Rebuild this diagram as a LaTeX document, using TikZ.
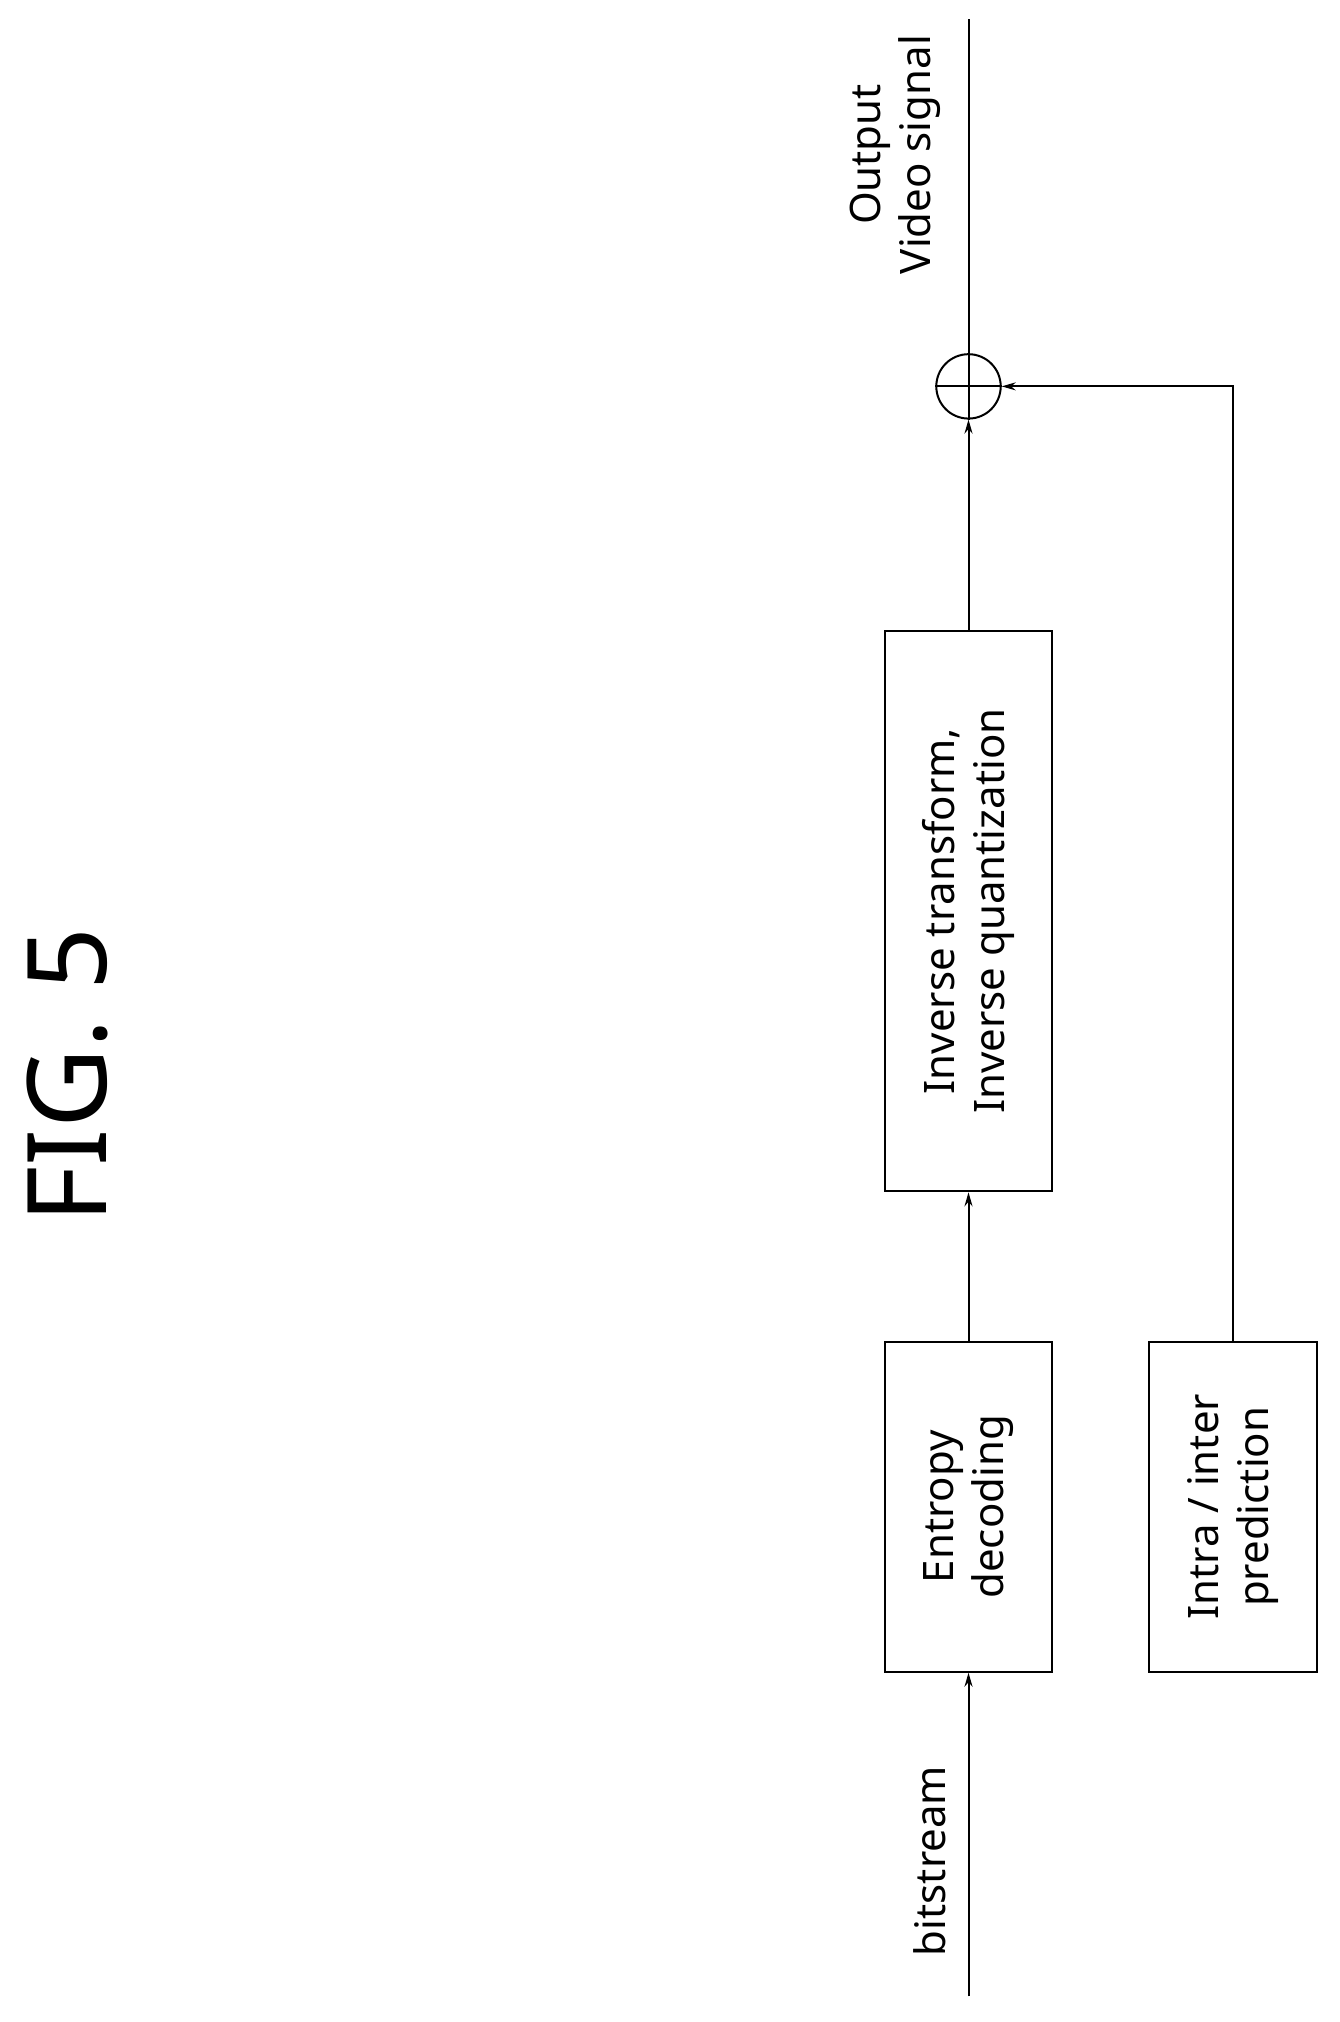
\documentclass[tikz,border=0pt]{standalone}
\usepackage{fontspec}
\setmainfont{Noto Sans}
\usetikzlibrary{arrows.meta}
\begin{document}
\begin{tikzpicture}[x=1.288pt,y=-1.288pt,>={Stealth[length=14pt,width=8pt]},line width=2pt]
        \tikzset{block/.style={draw,line width=2pt,minimum width=256*1.288pt,minimum height=130*1.288pt,rotate=90,align=center,font=\fontsize{42}{50}\selectfont}}
        \tikzset{lbl/.style={rotate=90,align=center,font=\fontsize{42}{50}\selectfont}}
        \useasboundingbox (0,0) rectangle (1040,1570);
        % blocks
        \node [block] (ent) at (752,1170) {Entropy\\decoding};
        \node [block,minimum width=435*1.288pt] (inv) at (752,707.5) {Inverse transform,\\Inverse quantization};
        \node [block] (pred) at (957.5,1170) {Intra / inter\\prediction};
        \node [draw,circle,line width=2pt,minimum size=50*1.288pt,inner sep=0pt] (sum) at (752,300) {};
        \draw (sum.north) -- (sum.south) (sum.east) -- (sum.west);
        \coordinate (in) at (752,1550);
        \coordinate (out) at (752,15);
        % connectors
        \draw[->] (in) -- (ent.west);
        \draw[->] (ent.east) -- (inv.west);
        \draw[->] (inv.east) -- (sum.south);
        \draw (sum.north) -- (out);
        \draw[->] (pred.east) |- (sum.east);
        % labels
        \node [lbl] (bits) at (722,1445) {bitstream};
        \node [lbl] (outv) at (695,120) {Output\\Video signal};
        \node [lbl,font=\fontsize{110}{120}\selectfont] (fig) at (52,835) {FIG. 5};
\end{tikzpicture}
\end{document}
